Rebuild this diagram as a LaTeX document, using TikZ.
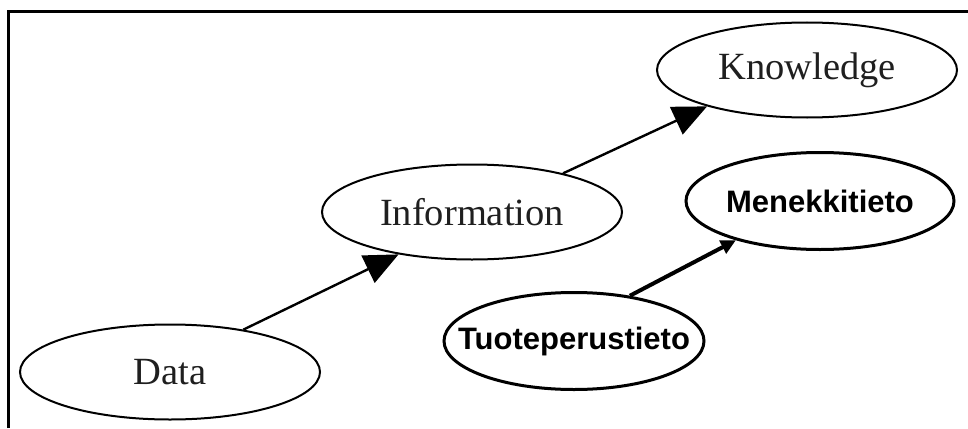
\documentclass[tikz,border=0pt]{standalone}
\usepackage{fontspec}
\setmainfont{Liberation Serif}
\newfontfamily\labelsans{Liberation Sans}
\usetikzlibrary{shapes.geometric,arrows.meta}

\begin{document}
\begin{tikzpicture}[x=1pt,y=-1pt,
  concept/.style={ellipse,draw=black,line width=2pt,fill=white,
    inner xsep=-60pt,inner ysep=0pt,minimum width=300pt,minimum height=95pt,
    text=black!88,font=\fontsize{38.5}{42}\selectfont},
  product/.style={ellipse,draw=black,line width=3pt,fill=white,
    inner xsep=-60pt,inner ysep=0pt,minimum height=97pt,
    text=black,font=\labelsans\bfseries\fontsize{31}{35}\selectfont},
  flow/.style={line width=2.4pt,-{Triangle[length=34pt,width=30pt]}},
  feed/.style={line width=4pt,-{Triangle[length=15pt,width=14pt]}}]

\useasboundingbox (0,0) rectangle (968,428);
\fill[white] (0,0) rectangle (968,428);

% frame
\draw[line width=3pt] (8.5,428) -- (8.5,11.5) -- (968,11.5);

% concept chain
\node[concept] (data) at (170,372) {Data};
\node[concept] (info) at (472,212) {Information};
\node[concept] (know) at (807,70) {Knowledge};

% product data
\node[product,minimum width=260pt] (tuote) at (574,341) {Tuoteperustieto};
\node[product,minimum width=268pt] (menekki) at (820,201) {Menekkitieto};

% connectors
\draw[flow] (data.30) -- (info.210);
\draw[flow] (info.23) -- (know.200);
\draw[feed] (tuote.39) -- (menekki.205);
\end{tikzpicture}
\end{document}
